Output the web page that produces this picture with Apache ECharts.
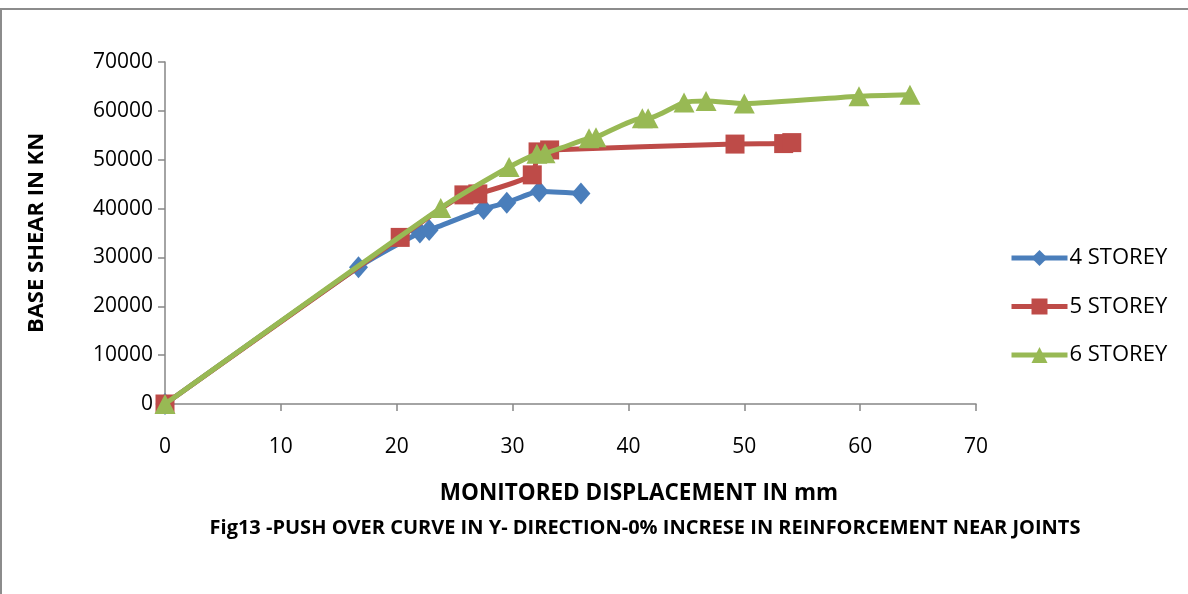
<!DOCTYPE html>
<html>
<head>
<meta charset="utf-8">
<script src="https://cdn.jsdelivr.net/npm/echarts@6/dist/echarts.min.js"></script>
<style>
  html, body { margin: 0; padding: 0; background: #ffffff; }
  #chart { width: 1188px; height: 594px; }
</style>
</head>
<body>
<div id="chart"></div>
<script>
// Pushover curves: monitored displacement (mm) vs base shear (kN)
const seriesNames = ['4 STOREY', '5 STOREY', '6 STOREY'];
const storey4 = [[0, 0], [16.7, 28000], [22.0, 35100], [22.8, 35600], [27.5, 39900], [29.5, 41200], [32.3, 43500], [35.9, 43100]];
const storey5 = [[0, 0], [20.3, 34100], [25.8, 42800], [27.0, 43000], [31.7, 46900], [32.2, 51600], [33.2, 52000], [49.2, 53200], [53.4, 53300], [54.1, 53500]];
const storey6 = [[0, 0], [23.8, 40100], [29.7, 48500], [32.1, 51200], [32.8, 51300], [36.6, 54400], [37.2, 54600], [41.2, 58500], [41.7, 58500], [44.8, 61700], [46.7, 62000], [50.0, 61500], [59.9, 63000], [64.3, 63300]];
const xTicks = { min: 0, max: 70, interval: 10 };
const yTicks = { min: 0, max: 70000, interval: 10000 };
const xTitle = 'MONITORED DISPLACEMENT IN mm';
const yTitle = 'BASE SHEAR IN KN';
const caption = 'Fig13 -PUSH OVER CURVE IN Y- DIRECTION-0% INCRESE IN REINFORCEMENT NEAR JOINTS';

const colors = ['#4a7ebb', '#be4b48', '#98b954'];
const symbols = ['diamond', 'rect', 'triangle'];
const sizes = [[19, 22], 19, [21, 20]];
const dataSets = [storey4, storey5, storey6];
const FONT = '"Open Sans", "DejaVu Sans", sans-serif';
const axisGray = '#868686';

const chart = echarts.init(document.getElementById('chart'), null, { renderer: 'canvas' });

chart.setOption({
  backgroundColor: '#ffffff',
  animation: false,
  grid: { left: 165, right: 212, top: 62, bottom: 190, containLabel: false },
  xAxis: {
    type: 'value',
    min: xTicks.min, max: xTicks.max, interval: xTicks.interval,
    axisLine: { show: true, onZero: false, lineStyle: { color: axisGray, width: 1.5 } },
    axisTick: { show: true, inside: false, length: 7, lineStyle: { color: axisGray, width: 1.5 } },
    axisLabel: { color: '#000', fontFamily: FONT, fontSize: 21, margin: 33 },
    splitLine: { show: false }
  },
  yAxis: {
    type: 'value',
    min: yTicks.min, max: yTicks.max, interval: yTicks.interval,
    name: yTitle,
    nameLocation: 'middle',
    nameGap: 117,
    nameRotate: 90,
    nameTextStyle: { color: '#000', fontFamily: FONT, fontWeight: 'bold', fontSize: 22 },
    axisLine: { show: true, lineStyle: { color: axisGray, width: 1.5 } },
    axisTick: { show: true, inside: false, length: 7, lineStyle: { color: axisGray, width: 1.5 } },
    axisLabel: { color: '#000', fontFamily: FONT, fontSize: 21, margin: 12, formatter: v => String(v) },
    splitLine: { show: false }
  },
  legend: {
    orient: 'vertical',
    left: 1004,
    top: 242,
    itemWidth: 56,
    itemHeight: 20,
    itemGap: 26.5,
    data: seriesNames,
    lineStyle: { width: 5 },
    textStyle: { color: '#000', fontFamily: FONT, fontSize: 22, padding: [0, 0, 0, -3] }
  },
  graphic: [
    {
      type: 'rect',
      shape: { x: 1, y: 9, width: 1400, height: 800 },
      style: { fill: 'none', stroke: '#8c8c8c', lineWidth: 2 },
      silent: true
    },
    {
      type: 'text',
      x: 639, y: 494,
      style: {
        text: xTitle, fill: '#000', fontFamily: FONT, fontWeight: 'bold', fontSize: 22.5,
        textAlign: 'center', textVerticalAlign: 'middle'
      }
    },
    {
      type: 'text',
      x: 645, y: 528,
      style: {
        text: caption, fill: '#000', fontFamily: FONT, fontWeight: 'bold', fontSize: 20,
        textAlign: 'center', textVerticalAlign: 'middle'
      }
    }
  ],
  series: dataSets.map((d, i) => ({
    name: seriesNames[i],
    type: 'line',
    data: d,
    smooth: 0.2,
    symbol: symbols[i],
    symbolSize: sizes[i],
    showAllSymbol: true,
    z: 2 + i,
    lineStyle: { color: colors[i], width: 5 },
    itemStyle: { color: colors[i], borderWidth: 0 }
  }))
});
</script>
</body>
</html>
